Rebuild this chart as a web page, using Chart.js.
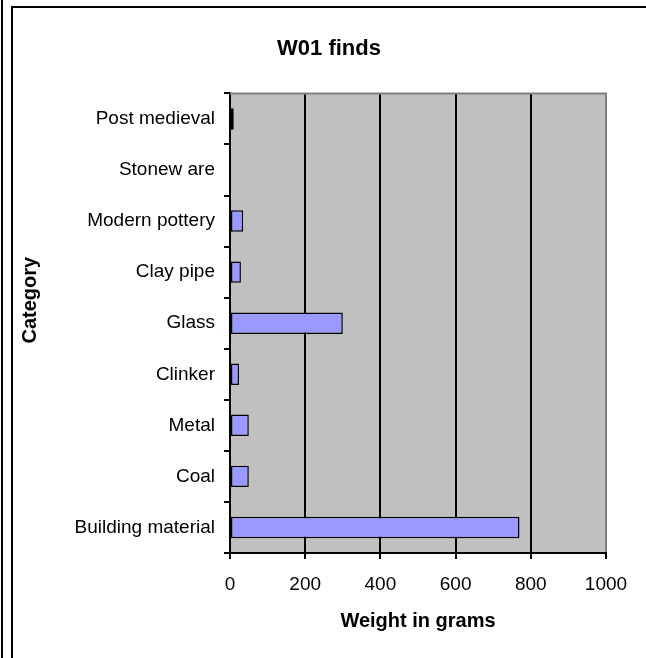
<!DOCTYPE html>
<html>
<head>
<meta charset="utf-8">
<script src="https://cdn.jsdelivr.net/npm/chart.js@4.4.0/dist/chart.umd.min.js"></script>
<style>
    html, body { margin: 0; padding: 0; background: #fff; overflow: hidden; }
    #wrap { position: relative; width: 646px; height: 658px; overflow: hidden; }
    #chart { position: absolute; left: 0; top: 0; }
    .line-left { position: absolute; left: 1px; top: 0; width: 2px; height: 658px; background: #000; }
    .frame { position: absolute; left: 11px; top: 6px; width: 720px; height: 720px;
             border-left: 2px solid #000; border-top: 2px solid #000; }
    .cover { position: absolute; left: 636px; top: 9px; width: 20px; height: 660px; background: #fff; z-index: 5; }
</style>
</head>
<body>
<div id="wrap">
    <div class="line-left"></div>
    <div class="frame"></div>
    <canvas id="chart" width="646" height="658"></canvas>
    <div class="cover"></div>
</div>
<script>
const categories = ['Post medieval', 'Stonew are', 'Modern pottery', 'Clay pipe', 'Glass', 'Clinker', 'Metal', 'Coal', 'Building material'];
const weights = [10, 0, 35, 29, 300, 24, 50, 50, 770];
const xTicks = [0, 200, 400, 600, 800, 1000];

const FONT = 'Arial, "Liberation Sans", sans-serif';

// grey plot background, top edge and the rotated category title
const plotArea = {
    id: 'plotArea',
    beforeDraw(chart) {
        const { ctx, chartArea: a } = chart;
        ctx.save();
        ctx.fillStyle = '#C0C0C0';
        ctx.fillRect(a.left, a.top, a.right - a.left, a.bottom - a.top);
        ctx.restore();
    },
    beforeDatasetsDraw(chart) {
        const { ctx, chartArea: a } = chart;
        ctx.save();
        ctx.strokeStyle = '#808080';
        ctx.lineWidth = 2;
        ctx.beginPath();
        ctx.moveTo(a.left, a.top);
        ctx.lineTo(a.right + 1, a.top);
        ctx.stroke();
        ctx.restore();
    },
    afterDraw(chart) {
        const { ctx, chartArea: a } = chart;
        ctx.save();
        ctx.translate(30, (a.top + a.bottom) / 2 - 23);
        ctx.rotate(-Math.PI / 2);
        ctx.fillStyle = '#000';
        ctx.font = 'bold 20px ' + FONT;
        ctx.textAlign = 'center';
        ctx.textBaseline = 'middle';
        ctx.fillText('Category', 0, 0);
        ctx.restore();
    }
};

new Chart(document.getElementById('chart').getContext('2d'), {
    type: 'bar',
    data: {
        labels: categories,
        datasets: [{
            label: 'Weight',
            data: weights,
            backgroundColor: '#9999FF',
            borderColor: '#000',
            borderWidth: 1.5,
            borderSkipped: false,
            barPercentage: 0.42,
            categoryPercentage: 1
        }]
    },
    options: {
        indexAxis: 'y',
        responsive: false,
        animation: false,
        layout: { padding: { left: 12, top: 8, right: 0, bottom: 0 } },
        plugins: {
            legend: { display: false },
            tooltip: { enabled: false },
            title: {
                display: true,
                text: 'W01 finds',
                color: '#000',
                font: { family: FONT, size: 22, weight: 'bold' },
                padding: { top: 28, bottom: 31 }
            }
        },
        scales: {
            x: {
                min: 0,
                max: 1000,
                afterBuildTicks: scale => { scale.ticks = xTicks.map(v => ({ value: v })); },
                afterFit: scale => { scale.height = 105; },
                ticks: {
                    color: '#000',
                    padding: 14,
                    maxRotation: 0,
                    callback: v => String(v),
                    font: { family: FONT, size: 19 }
                },
                grid: {
                    color: c => (c.tick && c.tick.value === 1000 ? '#808080' : '#000'),
                    tickColor: '#000',
                    lineWidth: 2,
                    tickLength: 6
                },
                border: { color: '#000', width: 2 },
                title: {
                    display: true,
                    text: 'Weight in grams',
                    color: '#000',
                    font: { family: FONT, size: 20, weight: 'bold' },
                    padding: { top: 0, bottom: 25 }
                }
            },
            y: {
                afterFit: scale => { scale.width = 218; },
                ticks: {
                    color: '#000',
                    padding: 9,
                    font: { family: FONT, size: 19 }
                },
                grid: {
                    drawOnChartArea: false,
                    color: '#000',
                    lineWidth: 2,
                    tickLength: 6
                },
                border: { color: '#000', width: 2 }
            },
            // empty right-hand strip so the plot ends at the same place as the original
            spacer: {
                type: 'linear',
                position: 'right',
                afterFit: scale => { scale.width = 40; },
                ticks: { display: false },
                grid: { display: false },
                border: { display: false }
            }
        }
    },
    plugins: [plotArea]
});
</script>
</body>
</html>
